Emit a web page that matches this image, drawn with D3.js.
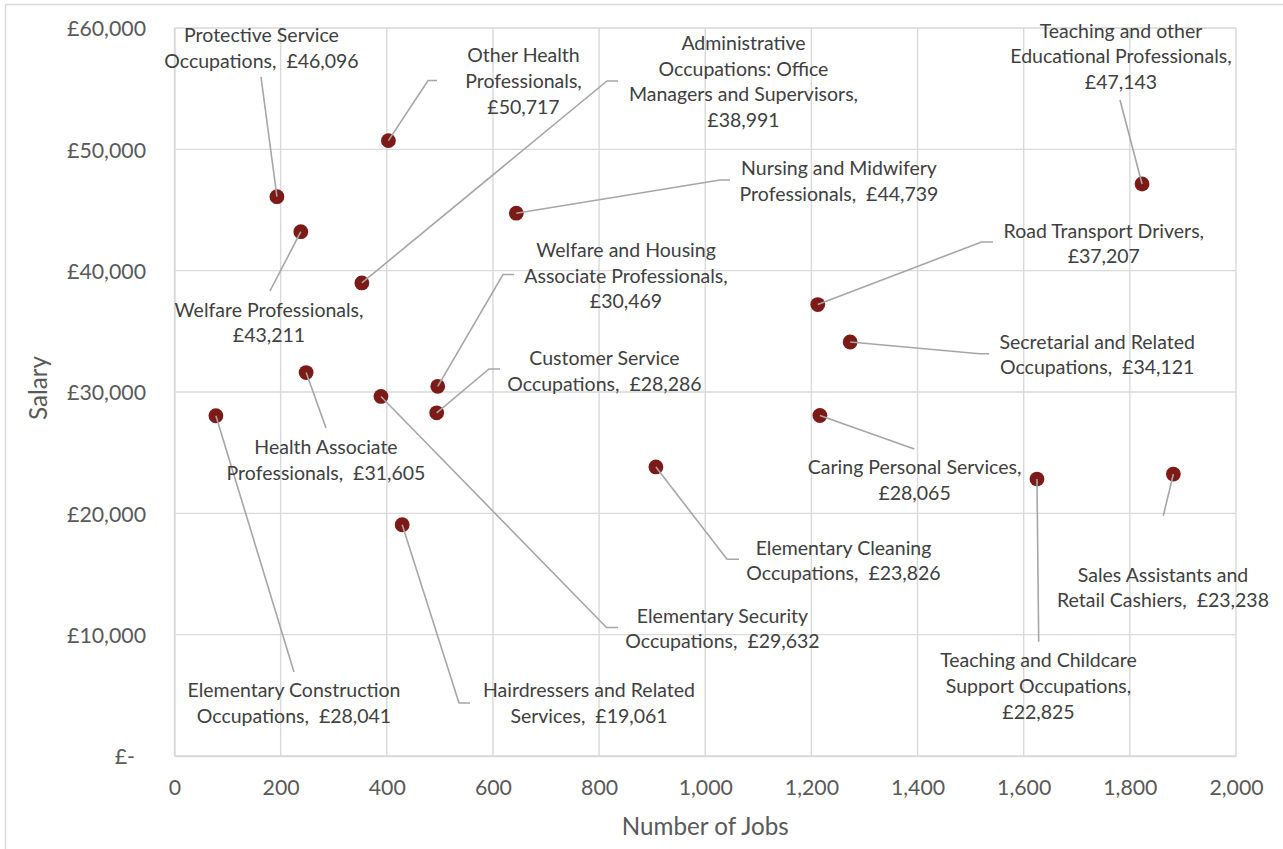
<!DOCTYPE html>
<html><head><meta charset="utf-8">
<script src="https://cdn.jsdelivr.net/npm/d3@7"></script>
<style>
  body { margin: 0; background: #fff; }
  text { font-family: Lato, "Open Sans", sans-serif; }
</style>
</head><body>
<svg id="chart" width="1283" height="849"></svg>
<script>
// ---- Data ----
const occupations = [
  "Protective Service Occupations",
  "Other Health Professionals",
  "Welfare Professionals",
  "Administrative Occupations: Office Managers and Supervisors",
  "Nursing and Midwifery Professionals",
  "Health Associate Professionals",
  "Elementary Construction Occupations",
  "Elementary Security Occupations",
  "Welfare and Housing Associate Professionals",
  "Customer Service Occupations",
  "Hairdressers and Related Services",
  "Elementary Cleaning Occupations",
  "Road Transport Drivers",
  "Secretarial and Related Occupations",
  "Caring Personal Services",
  "Teaching and other Educational Professionals",
  "Teaching and Childcare Support Occupations",
  "Sales Assistants and Retail Cashiers"
];
const jobs = [193, 403, 238, 353, 644, 248, 78, 389, 496, 494, 429, 907, 1212, 1273, 1216, 1823, 1625, 1882];
const salaries = [46096, 50717, 43211, 38991, 44739, 31605, 28041, 29632, 30469, 28286, 19061, 23826, 37207, 34121, 28065, 47143, 22825, 23238];

const xTicks = [0, 200, 400, 600, 800, 1000, 1200, 1400, 1600, 1800, 2000];
const yTicks = [0, 10000, 20000, 30000, 40000, 50000, 60000];

// ---- Label layout: line breaks, label anchor (centre x, first baseline) and leader routing ----
// "{v}" is replaced by the formatted salary.
const labelLayout = [
  { lines: ["Protective Service", "Occupations,  {v}"], cx: 261.5, by: 42, ex: 261, ey: 77 },
  { lines: ["Other Health", "Professionals,", "{v}"], cx: 523.5, by: 62.3, ex: 428, ey: 80.5, hx: 437 },
  { lines: ["Welfare Professionals,", "{v}"], cx: 269, by: 316.7, ex: 270, ey: 291 },
  { lines: ["Administrative", "Occupations: Office", "Managers and Supervisors,", "{v}"], cx: 743.5, by: 50, ex: 607, ey: 81, hx: 618 },
  { lines: ["Nursing and Midwifery", "Professionals,  {v}"], cx: 839, by: 175, ex: 720, ey: 180, hx: 730 },
  { lines: ["Health Associate", "Professionals,  {v}"], cx: 326, by: 454.3, ex: 326, ey: 428 },
  { lines: ["Elementary Construction", "Occupations,  {v}"], cx: 294, by: 697.3, ex: 294, ey: 672 },
  { lines: ["Elementary Security", "Occupations,  {v}"], cx: 722.5, by: 622.7, ex: 606.5, ey: 627.5, hx: 618 },
  { lines: ["Welfare and Housing", "Associate Professionals,", "{v}"], cx: 626, by: 257, ex: 503, ey: 274.5, hx: 514 },
  { lines: ["Customer Service", "Occupations,  {v}"], cx: 604.5, by: 365, ex: 489, ey: 369, hx: 500 },
  { lines: ["Hairdressers and Related", "Services,  {v}"], cx: 589, by: 697.3, ex: 459, ey: 703, hx: 470 },
  { lines: ["Elementary Cleaning", "Occupations,  {v}"], cx: 843.5, by: 554.7, ex: 727, ey: 559.3, hx: 739 },
  { lines: ["Road Transport Drivers,", "{v}"], cx: 1103.8, by: 237.7, ex: 981.5, ey: 242, hx: 993 },
  { lines: ["Secretarial and Related", "Occupations,  {v}"], cx: 1097.2, by: 348.7, ex: 979.5, ey: 353.7, hx: 989 },
  { lines: ["Caring Personal Services,", "{v}"], cx: 914.6, by: 474, ex: 914.3, ey: 449 },
  { lines: ["Teaching and other", "Educational Professionals,", "{v}"], cx: 1121, by: 37.7, ex: 1120, ey: 100 },
  { lines: ["Teaching and Childcare", "Support Occupations,", "{v}"], cx: 1038.5, by: 667.3, ex: 1038.7, ey: 641.7 },
  { lines: ["Sales Assistants and", "Retail Cashiers,  {v}"], cx: 1163, by: 581.7, ex: 1163.3, ey: 515.7 }
];

const points = occupations.map((name, i) => ({
  name, jobs: jobs[i], salary: salaries[i], layout: labelLayout[i]
}));

// ---- Frame ----
const W = 1283, H = 849;
const plot = { left: 174.5, right: 1236, top: 28, bottom: 756 };

const gridColor = "#d9d9d9";
const tickColor = "#595959";
const labelColor = "#404040";
const leaderColor = "#a6a6a6";
const markerColor = "#7b1a16";

const svg = d3.select("#chart");

// outer chart border
svg.append("rect")
  .attr("x", 5.5).attr("y", 4.5)
  .attr("width", W + 20).attr("height", H + 20)
  .attr("fill", "#fff")
  .attr("stroke", gridColor).attr("stroke-width", 1.5);

const x = d3.scaleLinear().domain([0, 2000]).range([plot.left, plot.right]);
const y = d3.scaleLinear().domain([0, 60000]).range([plot.bottom, plot.top]);

// ---- Gridlines ----
const grid = svg.append("g").attr("stroke", gridColor).attr("stroke-width", 1.4);
grid.selectAll("line.v").data(xTicks).join("line")
  .attr("class", "v")
  .attr("x1", d => x(d)).attr("x2", d => x(d))
  .attr("y1", plot.top).attr("y2", plot.bottom);
grid.selectAll("line.h").data(yTicks).join("line")
  .attr("class", "h")
  .attr("x1", plot.left).attr("x2", plot.right)
  .attr("y1", d => y(d)).attr("y2", d => y(d));

// ---- Axes ----
const fmtJobs = d3.format(",");
const fmtMoney = v => v === 0 ? "£-" : "£" + d3.format(",")(v);

const xAxis = svg.append("g")
  .attr("transform", `translate(0,${plot.bottom})`)
  .call(d3.axisBottom(x).tickValues(xTicks).tickFormat(fmtJobs).tickSize(0).tickPadding(0));
xAxis.select(".domain").attr("stroke", gridColor).attr("stroke-width", 1.6);
xAxis.selectAll(".tick text")
  .attr("y", 39).attr("dy", 0)
  .attr("fill", tickColor)
  .style("font-family", "Lato, sans-serif")
  .style("font-size", "21.3px");

const yAxis = svg.append("g")
  .attr("transform", `translate(${plot.left},0)`)
  .call(d3.axisLeft(y).tickValues(yTicks).tickFormat(fmtMoney).tickSize(0).tickPadding(0));
yAxis.select(".domain").attr("stroke", gridColor).attr("stroke-width", 1.4);
yAxis.selectAll(".tick text")
  .attr("x", d => d === 0 ? -39.5 : -28.5)
  .attr("dy", 7.7)
  .attr("fill", tickColor)
  .style("font-family", "Lato, sans-serif")
  .style("font-size", "21.3px");

// axis titles
svg.append("text")
  .attr("x", (plot.left + plot.right) / 2).attr("y", 835)
  .attr("text-anchor", "middle")
  .attr("fill", tickColor)
  .style("font-size", "24.2px")
  .text("Number of Jobs");

svg.append("text")
  .attr("transform", `translate(47,388) rotate(-90)`)
  .attr("text-anchor", "middle")
  .attr("fill", tickColor)
  .style("font-size", "24.2px")
  .text("Salary");

// ---- Markers ----
svg.append("g").selectAll("circle").data(points).join("circle")
  .attr("cx", d => x(d.jobs))
  .attr("cy", d => y(d.salary))
  .attr("r", 7.4)
  .attr("fill", markerColor);

// ---- Leader lines ----
svg.append("g")
  .attr("fill", "none").attr("stroke", leaderColor).attr("stroke-width", 1.6)
  .selectAll("path").data(points).join("path")
  .attr("d", d => {
    const L = d.layout;
    const p = d3.path();
    p.moveTo(x(d.jobs), y(d.salary));
    p.lineTo(L.ex, L.ey);
    if (L.hx !== undefined) p.lineTo(L.hx, L.ey);
    return p.toString();
  });

// ---- Data labels ----
const fmtSalary = v => "£" + d3.format(",")(v);
const lineH = 25.6;
const labels = svg.append("g")
  .attr("fill", labelColor)
  .style("font-size", "19.5px")
  .attr("text-anchor", "middle");

labels.selectAll("text").data(points).join("text")
  .attr("x", d => d.layout.cx)
  .attr("y", d => d.layout.by)
  .style("white-space", "pre")
  .each(function (d) {
    const t = d3.select(this);
    d.layout.lines.forEach((ln, i) => {
      t.append("tspan")
        .attr("x", d.layout.cx)
        .attr("y", d.layout.by + i * lineH)
        .text(ln.replace("{v}", fmtSalary(d.salary)));
    });
  });
</script>
</body></html>
